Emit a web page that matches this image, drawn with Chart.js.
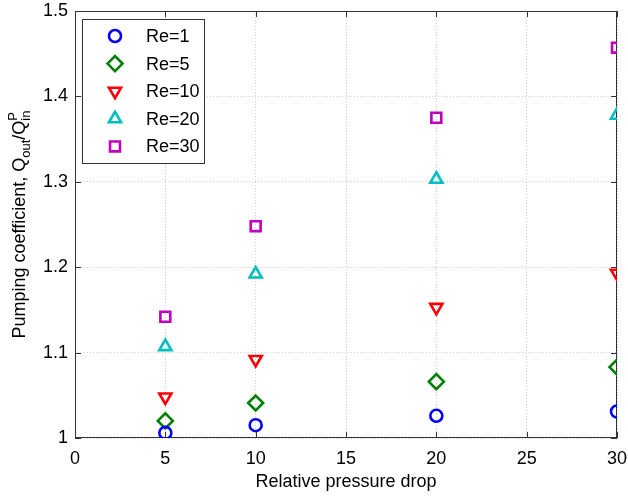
<!DOCTYPE html>
<html>
<head>
<meta charset="utf-8">
<script src="https://cdn.jsdelivr.net/npm/chart.js@4"></script>
<style>
  body { margin: 0; background: #fff; }
  canvas { display: block; }
</style>
</head>
<body>
<canvas id="myChart" width="628" height="498"></canvas>
<script>
const xValues = [5, 10, 20, 30];
const re1 = [1.006, 1.015, 1.026, 1.031];
const re5 = [1.020, 1.041, 1.066, 1.083];
const re10 = [1.048, 1.092, 1.153, 1.193];
const re20 = [1.107, 1.192, 1.303, 1.378];
const re30 = [1.142, 1.248, 1.375, 1.457];
const seriesLabels = ['Re=1', 'Re=5', 'Re=10', 'Re=20', 'Re=30'];
const xTicks = [0, 5, 10, 15, 20, 25, 30];
const yTicks = [1, 1.1, 1.2, 1.3, 1.4, 1.5];

const FONT = '"Liberation Sans", Arial, sans-serif';

function pts(vals) {
  return xValues.map((x, i) => ({ x: x, y: vals[i] }));
}

function ds(label, vals, color, style, radius, rotation) {
  return {
    label: label,
    data: pts(vals),
    borderColor: color,
    backgroundColor: 'rgba(0,0,0,0)',
    pointStyle: style,
    pointRadius: radius,
    pointHoverRadius: radius,
    pointBorderWidth: 2.6,
    pointRotation: rotation || 0,
    showLine: false
  };
}

const datasets = [
  ds(seriesLabels[0], re1, '#0000ff', 'circle', 6),
  ds(seriesLabels[1], re5, '#008000', 'rectRot', 7.5),
  ds(seriesLabels[2], re10, '#ff0000', 'triangle', 7, 180),
  ds(seriesLabels[3], re20, '#00bfbf', 'triangle', 7),
  ds(seriesLabels[4], re30, '#bf00bf', 'rect', 7)
];

// frame + inward ticks, MATLAB style
const framePlugin = {
  id: 'frame',
  beforeDatasetsDraw(chart) {
    const { ctx, chartArea: a, scales } = chart;
    ctx.save();
    ctx.strokeStyle = '#333';
    ctx.lineWidth = 1;
    ctx.strokeRect(a.left + 0.5, a.top + 0.5, a.right - a.left - 1, a.bottom - a.top - 1);
    ctx.beginPath();
    xTicks.forEach(t => {
      const px = Math.round(scales.x.getPixelForValue(t)) + 0.5;
      ctx.moveTo(px, a.bottom); ctx.lineTo(px, a.bottom - 6);
      ctx.moveTo(px, a.top); ctx.lineTo(px, a.top + 6);
    });
    yTicks.forEach(t => {
      const py = Math.round(scales.y.getPixelForValue(t)) + 0.5;
      ctx.moveTo(a.left, py); ctx.lineTo(a.left + 6, py);
      ctx.moveTo(a.right, py); ctx.lineTo(a.right - 6, py);
    });
    ctx.stroke();
    ctx.restore();
  },
  afterDraw(chart) {
    const { ctx, chartArea: a } = chart;
    ctx.save();
    // legend box
    ctx.fillStyle = '#fff';
    ctx.fillRect(82, 19, 122, 144);
    ctx.strokeStyle = '#333';
    ctx.lineWidth = 1;
    ctx.strokeRect(82.5, 19.5, 122, 144);
    ctx.font = '18px ' + FONT;
    ctx.textBaseline = 'middle';
    ctx.textAlign = 'left';
    chart.data.datasets.forEach((d, i) => {
      const y = 36 + i * 27.6;
      ctx.strokeStyle = d.borderColor;
      ctx.fillStyle = 'rgba(0,0,0,0)';
      ctx.lineWidth = d.pointBorderWidth;
      Chart.helpers.drawPoint(ctx, {
        pointStyle: d.pointStyle,
        rotation: d.pointRotation,
        radius: d.pointRadius,
        borderWidth: d.pointBorderWidth
      }, 115, y);
      ctx.fillStyle = '#000';
      ctx.fillText(d.label, 146, y + 1);
    });

    // x label
    ctx.textAlign = 'center';
    ctx.textBaseline = 'alphabetic';
    ctx.fillText('Relative pressure drop', (a.left + a.right) / 2, 487);

    // y label with sub/superscripts
    const big = '18px ' + FONT, small = '13px ' + FONT;
    const parts = [
      { t: 'Pumping coefficient, Q', f: big, dy: 0 },
      { t: 'out', f: small, dy: 5 },
      { t: '/Q', f: big, dy: 0 },
      { t: 'P', f: small, dy: -8, stack: true },
      { t: 'in', f: small, dy: 5 }
    ];
    let total = 0;
    const widths = parts.map(p => { ctx.font = p.f; return ctx.measureText(p.t).width; });
    parts.forEach((p, i) => {
      if (p.stack) total += Math.max(widths[i], widths[i + 1]);
      else if (!(i > 0 && parts[i - 1].stack)) total += widths[i];
    });
    ctx.translate(25, (a.top + a.bottom) / 2);
    ctx.rotate(-Math.PI / 2);
    ctx.textAlign = 'left';
    let x = -total / 2;
    parts.forEach((p, i) => {
      ctx.font = p.f;
      ctx.fillText(p.t, x, p.dy);
      if (p.stack) return;
      if (i > 0 && parts[i - 1].stack) x += Math.max(widths[i], widths[i - 1]);
      else x += widths[i];
    });
    ctx.restore();
  }
};

const ctx = document.getElementById('myChart').getContext('2d');

new Chart(ctx, {
  type: 'scatter',
  data: { datasets: datasets },
  options: {
    responsive: false,
    animation: false,
    events: [],
    layout: { padding: { top: 11, right: 11, left: 0, bottom: 0 } },
    plugins: { legend: { display: false }, tooltip: { enabled: false } },
    scales: {
      x: {
        type: 'linear',
        min: 0,
        max: 30,
        afterBuildTicks: s => { s.ticks = xTicks.map(v => ({ value: v })); },
        afterFit: s => { s.height = 60; s.paddingLeft = 0; s.paddingRight = 0; },
        ticks: {
          color: '#000',
          font: { family: FONT, size: 18 },
          padding: 10,
          maxRotation: 0,
          callback: v => String(v)
        },
        grid: { color: '#cfcfcf', lineWidth: 1, drawTicks: false },
        border: { display: false, dash: [1, 2] }
      },
      y: {
        type: 'linear',
        min: 1,
        max: 1.5,
        afterBuildTicks: s => { s.ticks = yTicks.map(v => ({ value: v })); },
        afterFit: s => { s.width = 75; s.paddingTop = 0; s.paddingBottom = 0; },
        ticks: {
          color: '#000',
          font: { family: FONT, size: 18 },
          padding: 7,
          callback: v => String(Math.round(v * 10) / 10)
        },
        grid: { color: '#cfcfcf', lineWidth: 1, drawTicks: false },
        border: { display: false, dash: [1, 2] }
      }
    }
  },
  plugins: [framePlugin]
});
</script>
</body>
</html>
